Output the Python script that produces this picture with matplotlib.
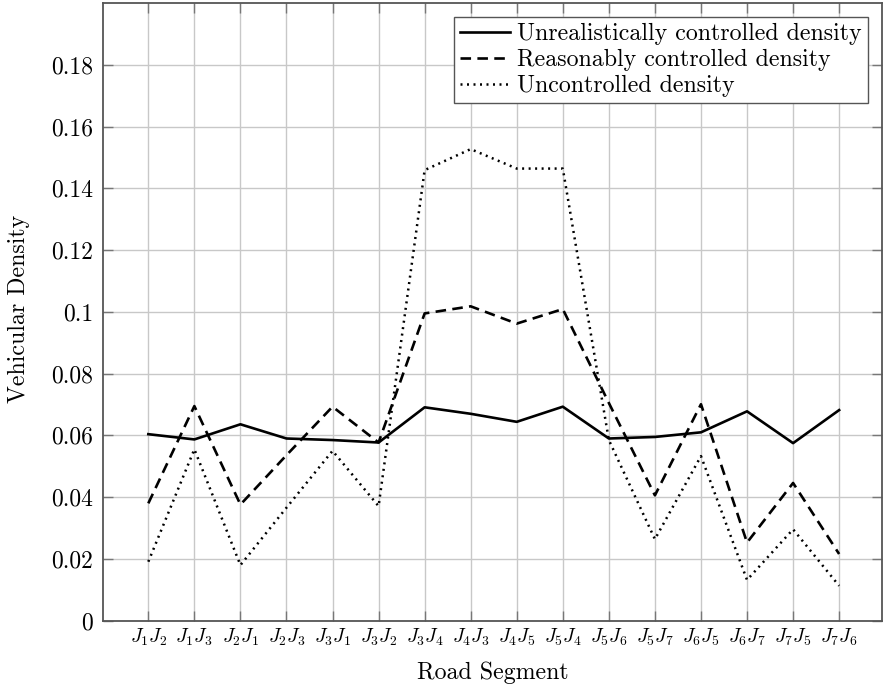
import matplotlib
matplotlib.use("Agg")
import matplotlib.pyplot as plt
from matplotlib.ticker import FixedLocator, FixedFormatter

plt.rcParams['font.family'] = 'serif'
plt.rcParams['font.serif'] = ['cmr10', 'DejaVu Serif']
plt.rcParams['mathtext.fontset'] = 'cm'
plt.rcParams['axes.formatter.use_mathtext'] = True

segments = ["J_1J_2", "J_1J_3", "J_2J_1", "J_2J_3", "J_3J_1", "J_3J_2", "J_3J_4", "J_4J_3",
            "J_4J_5", "J_5J_4", "J_5J_6", "J_5J_7", "J_6J_5", "J_6J_7", "J_7J_5", "J_7J_6"]
unrealistic = [0.0604, 0.0587, 0.0636, 0.0590, 0.0585, 0.0577, 0.0691, 0.0670,
               0.0644, 0.0693, 0.0590, 0.0595, 0.0610, 0.0678, 0.0575, 0.0682]
reasonable = [0.0380, 0.0695, 0.0376, 0.0536, 0.0693, 0.0577, 0.0995, 0.1018,
              0.0962, 0.1009, 0.0705, 0.0406, 0.0701, 0.0253, 0.0446, 0.0216]
uncontrolled = [0.0191, 0.0555, 0.0180, 0.0366, 0.0550, 0.0371, 0.1459, 0.1527,
                0.1464, 0.1464, 0.0585, 0.0264, 0.0533, 0.0132, 0.0296, 0.0113]
yticks = [0, 0.02, 0.04, 0.06, 0.08, 0.1, 0.12, 0.14, 0.16, 0.18]
ytick_labels = ["0", "0.02", "0.04", "0.06", "0.08", "0.1", "0.12", "0.14", "0.16", "0.18"]

fig = plt.figure(figsize=(8.84, 6.89), dpi=100)
ax = fig.add_axes([0.1162, 0.0991, 0.9977 - 0.1162, 0.9956 - 0.0991])

x = list(range(len(segments)))
ax.plot(x, unrealistic, color='black', lw=1.9, ls='-', label='Unrealistically controlled density')
ax.plot(x, reasonable, color='black', lw=1.9, ls=(0, (4.0, 2.4)), label='Reasonably controlled density')
ax.plot(x, uncontrolled, color='black', lw=1.8, ls=(0, (0.8, 1.8)), label='Uncontrolled density')

ax.set_xlim(-0.99, 15.93)
ax.set_ylim(0, 0.2)
ax.xaxis.set_major_locator(FixedLocator(x))
ax.xaxis.set_major_formatter(FixedFormatter(["$" + s + "$" for s in segments]))
ax.yaxis.set_major_locator(FixedLocator(yticks))
ax.yaxis.set_major_formatter(FixedFormatter(ytick_labels))

ax.grid(True, color='#c8c8c8', lw=1.0)
ax.set_axisbelow(True)
for sp in ax.spines.values():
    sp.set_color('#555555')
    sp.set_linewidth(1.3)
ax.tick_params(axis='both', direction='in', length=7, width=1.0, color='#777777',
               top=True, right=True)
ax.tick_params(axis='y', labelsize=17, pad=7)
ax.tick_params(axis='x', labelsize=14, pad=4)

ax.set_xlabel('Road Segment', fontsize=17.2)
ax.set_ylabel('Vehicular Density', fontsize=17.2)
ax.xaxis.set_label_coords(0.5, -0.066)
ax.yaxis.set_label_coords(-0.0934, 0.505)

leg = ax.legend(loc='upper right', fontsize=17.2, fancybox=False, framealpha=1,
                edgecolor='#555555', handlelength=2.1, handletextpad=0.3,
                borderpad=0.25, labelspacing=0.15, borderaxespad=0.6)
leg.get_frame().set_linewidth(1.0)

fig.savefig('out.png', dpi=100)
